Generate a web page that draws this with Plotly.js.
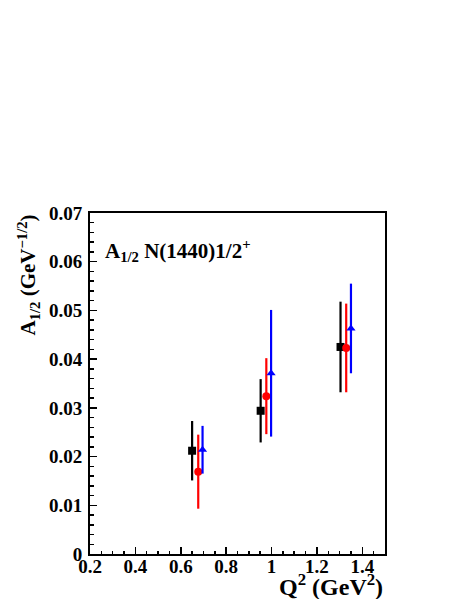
<!DOCTYPE html>
<html>
<head>
<meta charset="utf-8">
<script src="https://cdn.plot.ly/plotly-3.0.1.min.js"></script>
<style>html,body{margin:0;padding:0;background:#fff;}#chart{width:463px;height:599px;}</style>
</head>
<body>
<div id="chart"></div>
<script>
// Q^2 positions (GeV^2) for each series
const q2Black = [0.65, 0.952, 1.304];
const q2Red   = [0.677, 0.977, 1.329];
const q2Blue  = [0.696, 0.998, 1.350];
// A_1/2 values and errors
const aBlack = [0.0212, 0.0294, 0.0425];
const eBlack = [0.0061, 0.0065, 0.0093];
const aRed   = [0.0169, 0.0324, 0.0423];
const eRed   = [0.0076, 0.0078, 0.0091];
const aBlue  = [0.0214, 0.0371, 0.0463];
const eBlue  = [0.0049, 0.0130, 0.0092];
// axis ticks
const xTicks = [0.2, 0.4, 0.6, 0.8, 1.0, 1.2, 1.4];
const xTickText = ['0.2', '0.4', '0.6', '0.8', '1', '1.2', '1.4'];
const yTicks = [0, 0.01, 0.02, 0.03, 0.04, 0.05, 0.06, 0.07];
const yTickText = ['0', '0.01', '0.02', '0.03', '0.04', '0.05', '0.06', '0.07'];

const FONT = 'Liberation Serif, Times New Roman, serif';
const bold = arr => arr.map(t => '<b>' + t + '</b>');

function series(x, y, e, color, symbol, size) {
  return {
    type: 'scatter', mode: 'markers', x: x, y: y,
    marker: {color: color, symbol: symbol, size: size, line: {width: 0}},
    error_y: {type: 'data', array: e, visible: true, color: color, thickness: 2.2, width: 0},
    showlegend: false, hoverinfo: 'skip'
  };
}

const data = [
  series(q2Black, aBlack, eBlack, '#000000', 'square', 8),
  series(q2Red, aRed, eRed, '#ff0000', 'circle', 8),
  series(q2Blue, aBlue, eBlue, '#0000ff', 'triangle-up', 8)
];

const layout = {
  width: 463, height: 599,
  margin: {l: 90, r: 78, t: 213, b: 45},
  paper_bgcolor: '#ffffff', plot_bgcolor: '#ffffff',
  font: {family: FONT, color: '#000'},
  xaxis: {
    range: [0.2, 1.5], tickvals: xTicks, ticktext: bold(xTickText),
    showline: true, linecolor: '#000', linewidth: 2, mirror: true,
    ticks: 'inside', ticklen: 7, tickwidth: 1.5, tickcolor: '#000',
    minor: {dtick: 0.05, tick0: 0.2, ticks: 'inside', ticklen: 3.5, tickwidth: 1.5, tickcolor: '#000', showgrid: false},
    showgrid: false, zeroline: false,
    ticklabelstandoff: -6,
    tickfont: {family: FONT, size: 19, color: '#000'}
  },
  yaxis: {
    range: [0, 0.07], tickvals: yTicks, ticktext: bold(yTickText),
    showline: true, linecolor: '#000', linewidth: 2, mirror: true,
    ticks: 'inside', ticklen: 7, tickwidth: 1.5, tickcolor: '#000',
    minor: {dtick: 0.002, tick0: 0, ticks: 'inside', ticklen: 3.5, tickwidth: 1.5, tickcolor: '#000', showgrid: false},
    showgrid: false, zeroline: false,
    ticklabelstandoff: 2,
    tickfont: {family: FONT, size: 19, color: '#000'}
  },
  annotations: [
    {
      text: '<b>A<sub>1/2</sub> N(1440)1/2<sup>+</sup></b>',
      xref: 'paper', yref: 'paper', x: 0.044, y: 0.891,
      xanchor: 'left', yanchor: 'middle', showarrow: false,
      font: {family: FONT, size: 21, color: '#000'}
    },
    {
      text: '<b>Q<sup>2</sup> (GeV<sup>2</sup>)</b>',
      xref: 'paper', yref: 'paper', x: 1.0, y: -0.09,
      xanchor: 'right', yanchor: 'middle', showarrow: false,
      font: {family: FONT, size: 24, color: '#000'}
    },
    {
      text: '<b>A<sub>1/2</sub> (GeV<sup>\u22121/2</sup>)</b>',
      xref: 'paper', yref: 'paper', x: -0.21, y: 1.0,
      xanchor: 'center', yanchor: 'top', textangle: -90, showarrow: false,
      font: {family: FONT, size: 21, color: '#000'}
    }
  ]
};

Plotly.newPlot('chart', data, layout, {displayModeBar: false, staticPlot: true});
</script>
</body>
</html>
